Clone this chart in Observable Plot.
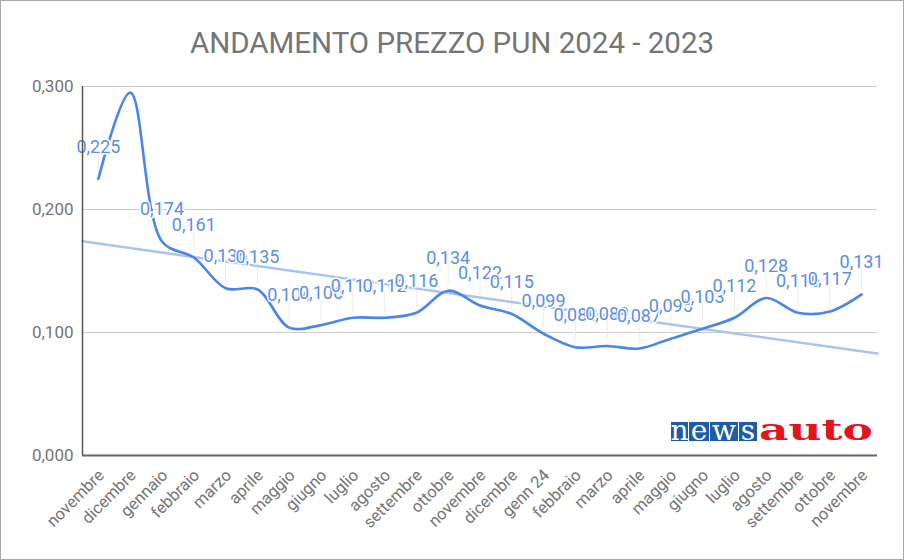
<!DOCTYPE html>
<html>
<head>
<meta charset="utf-8">
<script src="https://cdn.jsdelivr.net/npm/d3@7"></script>
<script src="https://cdn.jsdelivr.net/npm/@observablehq/plot@0.6"></script>
<style>
  html, body { margin: 0; padding: 0; background: #fff; }
  #wrap { position: relative; width: 904px; height: 560px; overflow: hidden; font-family: Roboto, sans-serif; }
  #frame { position: absolute; left: 0; top: 0; width: 904px; height: 560px; box-sizing: border-box; border: 1px solid #a8a8a8; pointer-events: none; }
  #title { position: absolute; left: 0; top: 25px; width: 904px; text-align: center; font-size: 29.5px; line-height: 36px; color: #757575; font-family: Roboto, sans-serif; }
  #chart { position: absolute; left: 0; top: 0; }
  #logo { position: absolute; left: 671px; top: 420px; }
</style>
</head>
<body>
<div id="wrap">
  <div id="chart"></div>
  <div id="title">ANDAMENTO PREZZO PUN 2024 - 2023</div>
  <svg id="logo" width="210" height="26" font-family="'DejaVu Serif', 'Liberation Serif', serif">
    <rect x="0" y="2" width="17" height="19" fill="#1f5ba6"></rect>
    <rect x="18" y="2" width="20" height="19" fill="#1f5ba6"></rect>
    <rect x="39" y="2" width="28" height="19" fill="#1f5ba6"></rect>
    <rect x="68" y="2" width="18" height="19" fill="#1f5ba6"></rect>
    <text y="19.5" font-size="28" fill="#fff" text-anchor="middle">
      <tspan x="8.5">n</tspan><tspan x="28">e</tspan><tspan x="53">w</tspan><tspan x="77">s</tspan>
    </text>
    <text x="88" y="20" font-size="30" font-weight="bold" fill="#e3141c" textLength="114" lengthAdjust="spacingAndGlyphs">auto</text>
  </svg>
  <div id="frame"></div>
</div>
<script>
const months = ["novembre","dicembre","gennaio","febbraio","marzo","aprile","maggio","giugno","luglio","agosto","settembre","ottobre","novembre","dicembre","genn 24","febbraio","marzo","aprile","maggio","giugno","luglio","agosto","settembre","ottobre","novembre"];
const prices = [0.225,0.295,0.174,0.161,0.136,0.135,0.104,0.106,0.112,0.112,0.116,0.134,0.122,0.115,0.099,0.088,0.089,0.087,0.095,0.103,0.112,0.128,0.116,0.117,0.131];
const yTicks = [0, 0.1, 0.2, 0.3];

const fmt = v => d3.format(".3f")(v).replace(".", ",");
const data = prices.map((v, i) => ({i, v, m: months[i]}));

// linear regression trend line from the data
const n = prices.length;
const mx = d3.mean(data, d => d.i), my = d3.mean(prices);
const slope = d3.sum(data, d => (d.i - mx) * (d.v - my)) / d3.sum(data, d => (d.i - mx) ** 2);
const trend = [-0.5, n - 0.5].map(x => ({x, y: my + slope * (x - mx)}));

const yMax = 0.3;
const labeled = data.filter(d => d.v + 0.026 <= yMax);

const chart = Plot.plot({
  width: 904,
  height: 560,
  marginLeft: 82,
  marginRight: 27,
  marginTop: 86,
  marginBottom: 105,
  style: {fontFamily: "Roboto, sans-serif", background: "transparent"},
  x: {type: "linear", domain: [-0.5, n - 0.5]},
  y: {domain: [0, yMax]},
  marks: [
    Plot.gridY(yTicks, {stroke: "#cccccc", strokeOpacity: 1, strokeWidth: 1}),
    Plot.ruleX(labeled, {x: "i", y1: d => d.v + 0.004, y2: d => d.v + 0.02, stroke: "#ececec", strokeWidth: 1}),
    Plot.line(trend, {x: "x", y: "y", stroke: "#a9c4f2", strokeWidth: 2.5}),
    Plot.line(data, {x: "i", y: "v", stroke: "#4a86e8", strokeWidth: 2.6, curve: "catmull-rom"}),
    Plot.text(labeled, {x: "i", y: "v", text: d => fmt(d.v), dy: -32, fill: "#5b8ee6", stroke: "white", strokeWidth: 3, fontSize: 18}),
    Plot.ruleY([0], {stroke: "#666", strokeWidth: 2}),
    Plot.ruleX([-0.5], {stroke: "#555", strokeWidth: 1.5}),
    Plot.axisY(yTicks, {tickFormat: fmt, tickSize: 0, tickPadding: 9, fontSize: 17, color: "#757575", label: null}),
    Plot.axisX(d3.range(n), {tickFormat: i => months[i], tickSize: 0, tickRotate: -45, tickPadding: 17, fontSize: 16.5, color: "#757575", label: null, dx: 3})
  ]
});
document.getElementById("chart").appendChild(chart);
</script>
</body>
</html>
